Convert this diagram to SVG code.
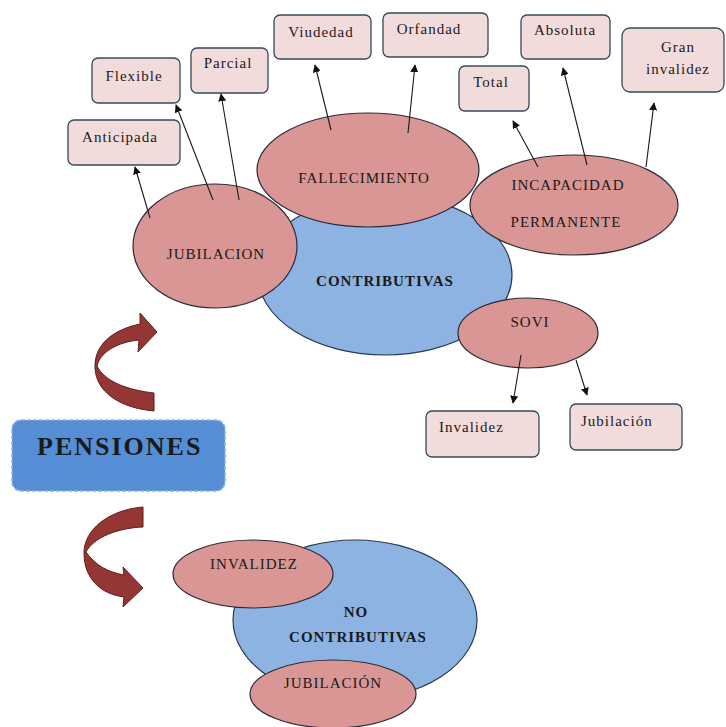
<svg xmlns="http://www.w3.org/2000/svg" width="726" height="727" viewBox="0 0 726 727">
<defs>
<style>
.box{fill:#f2dcdb;stroke:#34495a;stroke-width:1.3}
.pink{fill:#d99694;stroke:#2a2a3a;stroke-width:1.2}
.blue{fill:#8db3e2;stroke:#2a3a50;stroke-width:1.2}
.t{font-family:"Liberation Serif","Times New Roman",serif;font-size:15px;fill:#1a1a1a;letter-spacing:1px}
.c{text-anchor:middle}
.b{font-weight:bold}
.con{stroke:#1a1a1a;stroke-width:1.1;fill:none;marker-end:url(#ah)}
.curve{fill:#943634;stroke:#5c1f1d;stroke-width:1}
</style>
<marker id="ah" viewBox="0 0 10 10" refX="9" refY="5" markerWidth="8" markerHeight="8" markerUnits="userSpaceOnUse" orient="auto">
<path d="M0,0 L10,5 L0,10 Z" fill="#111"/>
</marker>
</defs>
<rect width="726" height="727" fill="#ffffff"/>

<g id="contributivas"><ellipse class="blue" cx="385" cy="275" rx="127" ry="80"/><text class="t c b" x="385" y="286">CONTRIBUTIVAS</text></g>
<g id="fallecimiento"><ellipse class="pink" cx="368" cy="170" rx="111" ry="57"/><text class="t c" x="364" y="183">FALLECIMIENTO</text></g>
<g id="jubilacion"><ellipse class="pink" cx="215" cy="246" rx="82" ry="62"/><text class="t c" x="216" y="259">JUBILACION</text></g>
<g id="incapacidad"><ellipse class="pink" cx="574" cy="205" rx="104" ry="50"/><text class="t c" x="568" y="190">INCAPACIDAD</text><text class="t c" x="566" y="227">PERMANENTE</text></g>
<g id="sovi"><ellipse class="pink" cx="528" cy="333" rx="70" ry="35"/><text class="t c" x="530" y="327">SOVI</text></g>

<g id="anticipada"><rect class="box" x="68" y="120" width="112" height="45" rx="6"/><text class="t c" x="120" y="142">Anticipada</text></g>
<g id="flexible"><rect class="box" x="92" y="58" width="88" height="45" rx="6"/><text class="t c" x="134" y="81">Flexible</text></g>
<g id="parcial"><rect class="box" x="191" y="48" width="77" height="45" rx="6"/><text class="t c" x="228" y="68">Parcial</text></g>
<g id="viudedad"><rect class="box" x="274" y="15" width="97" height="44" rx="6"/><text class="t c" x="321" y="37">Viudedad</text></g>
<g id="orfandad"><rect class="box" x="383" y="13" width="105" height="44" rx="6"/><text class="t c" x="429" y="34">Orfandad</text></g>
<g id="absoluta"><rect class="box" x="521" y="15" width="89" height="44" rx="6"/><text class="t c" x="565" y="35">Absoluta</text></g>
<g id="total"><rect class="box" x="459" y="66" width="70" height="45" rx="6"/><text class="t c" x="491" y="87">Total</text></g>
<g id="gran-invalidez"><rect class="box" x="622" y="28" width="102" height="64" rx="8"/><text class="t c" x="678" y="52">Gran</text><text class="t c" x="678" y="74">invalidez</text></g>
<g id="sovi-invalidez"><rect class="box" x="426" y="411" width="113" height="46" rx="6"/><text class="t" x="439" y="432">Invalidez</text></g>
<g id="sovi-jubilacion"><rect class="box" x="570" y="404" width="112" height="46" rx="6"/><text class="t" x="581" y="426">Jubilación</text></g>

<g id="pensiones"><rect x="12" y="420" width="213" height="71" rx="9" fill="#558ed5" stroke="#8db3e2" stroke-width="1.5" stroke-dasharray="4 2"/><text class="t b" x="37" y="455" style="font-size:26px;letter-spacing:2px">PENSIONES</text></g>

<g id="no-contributivas"><ellipse class="blue" cx="355" cy="620" rx="122" ry="80"/><text class="t c b" x="356" y="617">NO</text><text class="t c b" x="358" y="642">CONTRIBUTIVAS</text></g>
<g id="nc-invalidez"><ellipse class="pink" cx="253" cy="574" rx="80" ry="34"/><text class="t c" x="254" y="569">INVALIDEZ</text></g>
<g id="nc-jubilacion"><ellipse class="pink" cx="333" cy="694" rx="83" ry="34"/><text class="t c" x="333" y="688">JUBILACIÓN</text></g>

<g id="curved-arrows">
<path class="curve" d="M154,393 L154,411 C120,408 96,392 95,368 C94,345 112,330 140,324 L140,313 L157,332 L138,352 L139,340 C118,342 100,352 97,366 C105,382 128,390 154,393 Z"/>
<path class="curve" d="M143,507 L143,527 C118,528 94,537 86,552 C96,566 108,572 124,575 L123,567 L143,588 L123,607 L124,597 C100,594 84,578 84,553 C84,530 108,510 143,507 Z"/>
</g>

<g id="connectors">
<line class="con" x1="150" y1="218" x2="135" y2="167"/>
<line class="con" x1="213" y1="200" x2="176" y2="105"/>
<line class="con" x1="239" y1="200" x2="221" y2="94"/>
<line class="con" x1="331" y1="130" x2="315" y2="65"/>
<line class="con" x1="408" y1="133" x2="415" y2="65"/>
<line class="con" x1="538" y1="167" x2="513" y2="121"/>
<line class="con" x1="587" y1="165" x2="563" y2="68"/>
<line class="con" x1="646" y1="167" x2="654" y2="103"/>
<line class="con" x1="521" y1="355" x2="513" y2="403"/>
<line class="con" x1="576" y1="360" x2="587" y2="395"/>
</g>
</svg>
